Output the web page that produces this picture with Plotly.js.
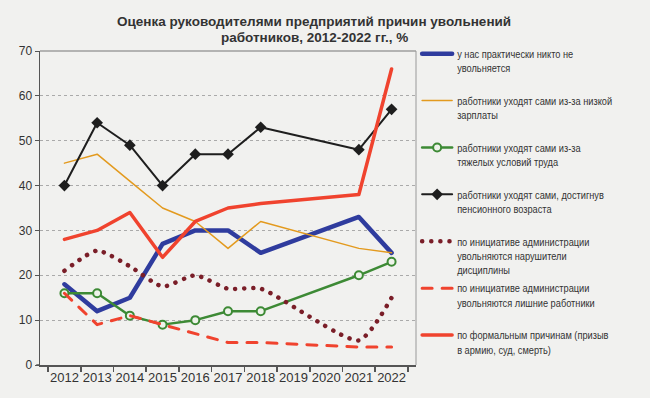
<!DOCTYPE html>
<html>
<head>
<meta charset="utf-8">
<script src="https://cdn.plot.ly/plotly-3.0.1.min.js"></script>
<style>
html,body{margin:0;padding:0;background:#f1f1ef;}
#chart .js-line{stroke-linecap:round;stroke-linejoin:round;}
#chart .legendtext{transform:scaleX(0.84);transform-box:fill-box;transform-origin:0% 50%;}
</style>
</head>
<body>
<div id="chart" style="width:650px;height:398px;"></div>
<script>
const years = ['2012','2013','2014','2015','2016','2017','2018','2019','2020','2021','2022'];
const nobodyQuits   = [18, 12, 15, 27, 30, 30, 25, null, null, 33, 25];
const lowPay        = [45, 47, 41, 35, 32, 26, 32, null, null, 26, 25];
const hardWork      = [16, 16, 11, 9, 10, 12, 12, null, null, 20, 23];
const retirement    = [40, 54, 49, 40, 47, 47, 53, null, null, 48, 57];
const discipline    = [21, 25.5, 22, 17.5, 20, 17, 17, null, null, 5.5, 15];
const redundant     = [16, 9, 11, 9, 7, 5, 5, null, null, 4, 4];
const formal        = [28, 30, 34, 24, 32, 35, 36, null, null, 38, 66];

const names = [
  'у нас практически никто не<br>увольняется<br> ',
  'работники уходят сами из-за низкой<br>зарплаты<br> ',
  'работники уходят сами из-за<br>тяжелых условий труда<br> ',
  'работники уходят сами, достигнув<br>пенсионного возраста<br> ',
  'по инициативе администрации<br>увольняются нарушители<br>дисциплины',
  'по инициативе администрации<br>увольняются лишние работники<br> ',
  'по формальным причинам (призыв<br>в армию, суд, смерть)<br> '
];

const traces = [
  {y: nobodyQuits, line: {color: '#2f3c9e', width: 4.5}, mode: 'lines'},
  {y: lowPay, line: {color: '#e39a1e', width: 1.5}, mode: 'lines'},
  {y: hardWork, line: {color: '#3d8a35', width: 2.5}, mode: 'lines+markers',
   marker: {symbol: 'circle', size: 8, color: '#eef3ea', line: {color: '#3d8a35', width: 2}}},
  {y: retirement, line: {color: '#1e1e1e', width: 2}, mode: 'lines+markers',
   marker: {symbol: 'diamond', size: 9, color: '#1e1e1e'}},
  {y: discipline, line: {color: '#7a1e28', width: 4.5, dash: '0.1px,9px', shape: 'spline', smoothing: 0.6}, mode: 'lines'},
  {y: redundant, line: {color: '#f0432e', width: 3, dash: '10px,10px'}, mode: 'lines'},
  {y: formal, line: {color: '#f0432e', width: 3.5}, mode: 'lines'}
].map((t, i) => Object.assign({
  type: 'scatter', x: years, name: names[i], connectgaps: true,
  legendgroup: 'g' + i
}, t));

const layout = {
  width: 650, height: 398,
  paper_bgcolor: '#f1f1ef', plot_bgcolor: '#f1f1ef',
  margin: {l: 40, r: 234, t: 51, b: 33, autoexpand: false},
  font: {family: 'Liberation Sans, Arial, sans-serif', color: '#333'},
  showlegend: true,
  legend: {
    x: 1.003, xanchor: 'left', y: 1.035, yanchor: 'top',
    bgcolor: 'rgba(0,0,0,0)', borderwidth: 0,
    font: {family: 'Liberation Sans, Arial, sans-serif', size: 11, color: '#333'},
    valign: 'top', tracegroupgap: 1, itemwidth: 30, maxheight: 390
  },
  xaxis: {
    type: 'category', showgrid: false, zeroline: false, tickangle: 0,
    showline: true, linecolor: '#555', linewidth: 1.5, mirror: false,
    ticks: 'outside', tickson: 'boundaries', ticklen: 5, tickcolor: '#555', tickwidth: 1.5,
    tickfont: {size: 13, color: '#333'}
  },
  yaxis: {
    range: [0, 70], dtick: 10, zeroline: false,
    showgrid: true, gridcolor: '#aaa', griddash: 'dot', gridwidth: 1,
    showline: true, linecolor: '#555', linewidth: 1.5, mirror: false,
    ticks: 'outside', ticklen: 4, tickcolor: '#555',
    tickfont: {size: 12, color: '#333'}
  },
  shapes: [
    {type: 'line', xref: 'paper', yref: 'paper', x0: 0, x1: 1, y0: 1, y1: 1, line: {color: '#777', width: 1.2}},
    {type: 'line', xref: 'paper', yref: 'paper', x0: 1, x1: 1, y0: 0, y1: 1, line: {color: '#999', width: 1}},
    {type: 'line', xref: 'paper', yref: 'paper', x0: -0.01, x1: 0, y0: 0, y1: 0, line: {color: '#555', width: 1.5}}
  ],
  annotations: [
    {text: '<b>Оценка руководителями предприятий причин увольнений</b>', xref: 'paper', yref: 'paper',
     x: (314 - 40) / 376, y: 1 + (51 - 21) / 314, xanchor: 'center', yanchor: 'middle', showarrow: false,
     font: {family: 'Liberation Sans, Arial, sans-serif', size: 13.5, color: '#333'}},
    {text: '<b>работников, 2012-2022 гг., %</b>', xref: 'paper', yref: 'paper',
     x: (314 - 40) / 376, y: 1 + (51 - 38) / 314, xanchor: 'center', yanchor: 'middle', showarrow: false,
     font: {family: 'Liberation Sans, Arial, sans-serif', size: 13.5, color: '#333'}}
  ]
};

Plotly.newPlot('chart', traces, layout, {displayModeBar: false, staticPlot: true});
</script>
</body>
</html>
